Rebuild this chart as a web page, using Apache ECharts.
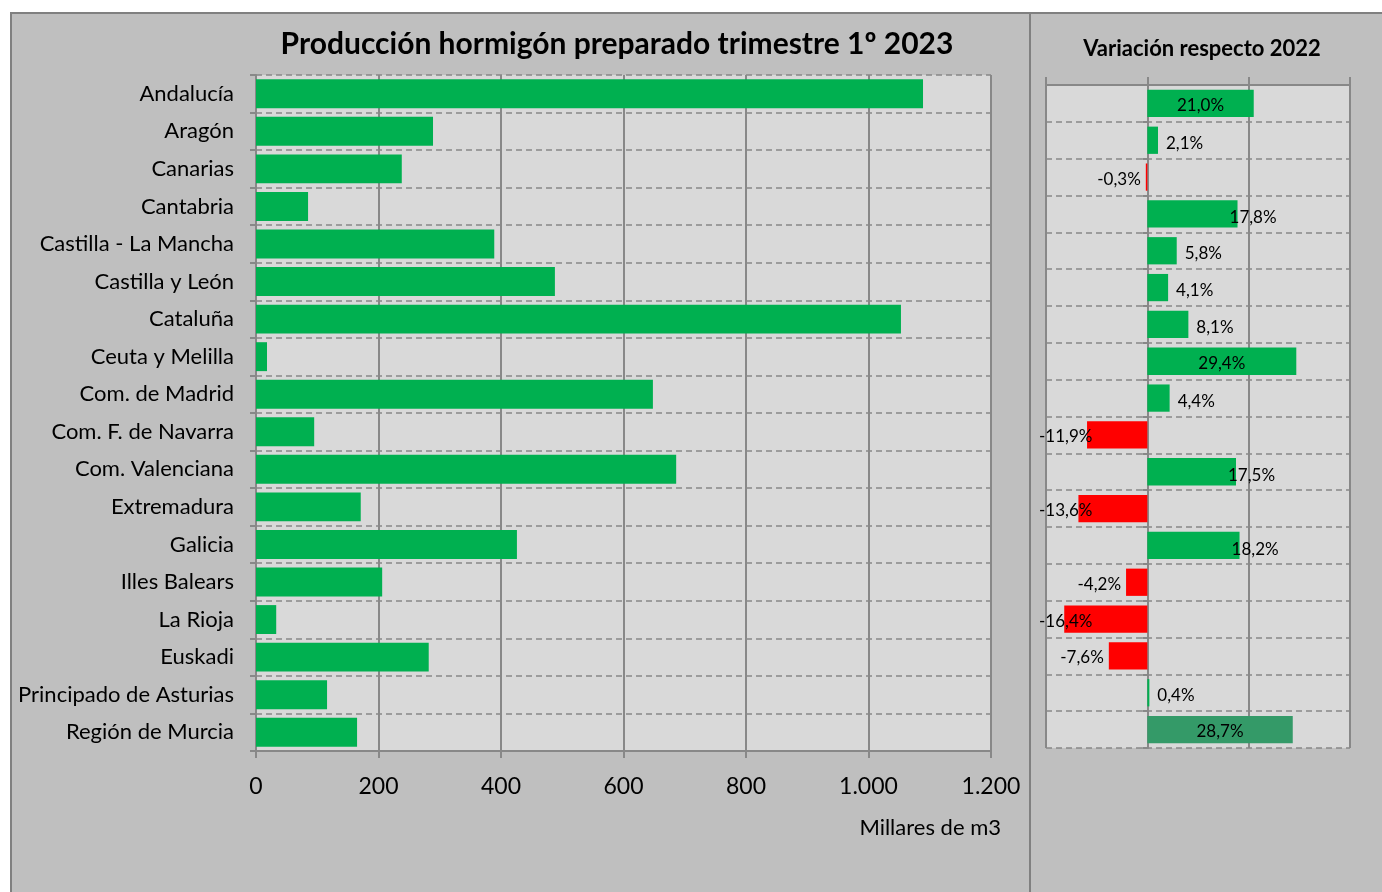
<!DOCTYPE html>
<html>
<head>
<meta charset="utf-8">
<script src="https://cdn.jsdelivr.net/npm/echarts@6/dist/echarts.min.js"></script>
<style>
html,body{margin:0;padding:0;background:#fff;}
#c{width:1382px;height:892px;}
</style>
</head>
<body>
<div id="c"></div>
<script>
const categories = ['Andalucía','Aragón','Canarias','Cantabria','Castilla - La Mancha','Castilla y León','Cataluña','Ceuta y Melilla','Com. de Madrid','Com. F. de Navarra','Com. Valenciana','Extremadura','Galicia','Illes Balears','La Rioja','Euskadi','Principado de Asturias','Región de Murcia'];
const production = [1089, 289, 238, 85, 389, 488, 1053, 18, 648, 95, 686, 171, 426, 206, 33, 282, 116, 165];
const variation = [21.0, 2.1, -0.3, 17.8, 5.8, 4.1, 8.1, 29.4, 4.4, -11.9, 17.5, -13.6, 18.2, -4.2, -16.4, -7.6, 0.4, 28.7];
const prodTicks = [0, 200, 400, 600, 800, 1000, 1200];
const varTicks = [-20, 0, 20, 40];

const FONT = 'Lato';
const GRID = '#888888';
const GREEN = '#00b050';
const RED = '#ff0000';
const DARKGREEN = '#349a68';

const R = {left: 1046, top: 85, width: 304, height: 663};
const ppu = R.width / (varTicks[varTicks.length-1] - varTicks[0]);

function fmtThousands(v){
  return String(v).replace(/\B(?=(\d{3})+(?!\d))/g, '.');
}
function fmtPct(v){ return v.toFixed(1).replace('.', ',') + '%'; }

const varData = variation.map((v, i) => {
  let color = v < 0 ? RED : GREEN;
  if (i === variation.length - 1) color = DARKGREEN;
  let label;
  if (v >= 20) {
    label = {position: 'inside', offset: [0, 2]};
  } else if (v >= 10) {
    label = {position: 'right', distance: 5, offset: [-13, 4]};
  } else if (v >= 0) {
    label = {position: 'right', distance: 8, offset: [0, 3]};
  } else if (v > -10) {
    label = {position: 'left', distance: 5, offset: [0, 2]};
  } else {
    label = {position: 'insideLeft', distance: 0, offset: [-7 - (v - varTicks[0]) * ppu, 2]};
  }
  return {value: v, itemStyle: {color: color}, label: label};
});

const chart = echarts.init(document.getElementById('c'), null, {renderer: 'canvas'});
chart.setOption({
  animation: false,
  textStyle: {fontFamily: FONT},
  graphic: [
    {type: 'rect', z: -100, zlevel: 0, shape: {x: 11, y: 13, width: 1380, height: 890}, style: {fill: '#bfbfbf', stroke: '#808080', lineWidth: 2}},
    {type: 'line', z: -99, shape: {x1: 1030, y1: 13, x2: 1030, y2: 892}, style: {stroke: '#808080', lineWidth: 2}},
    {type: 'text', z: 10, x: 1001, y: 828, style: {text: 'Millares de m3', font: '22px ' + FONT, fill: '#000', textAlign: 'right', textVerticalAlign: 'middle'}}
  ],
  title: [
    {text: 'Producción hormigón preparado trimestre 1º 2023', left: 612, top: 24, textAlign: 'center',
     textStyle: {fontFamily: FONT, fontSize: 30, fontWeight: 'bold', color: '#000'}},
    {text: 'Variación respecto 2022', left: 1197, top: 33, textAlign: 'center',
     textStyle: {fontFamily: FONT, fontSize: 22, fontWeight: 'bold', color: '#000'}}
  ],
  grid: [
    {left: 256, top: 75, width: 735, height: 676, show: true, backgroundColor: '#d9d9d9', borderWidth: 0, containLabel: false},
    {left: R.left, top: R.top, width: R.width, height: R.height, show: true, backgroundColor: '#d9d9d9', borderWidth: 0, containLabel: false}
  ],
  xAxis: [
    {type: 'value', gridIndex: 0, min: prodTicks[0], max: prodTicks[prodTicks.length-1], interval: 200, position: 'bottom',
     axisLine: {show: true, lineStyle: {color: GRID, width: 2}},
     axisTick: {show: true, length: 7, lineStyle: {color: GRID, width: 2}},
     axisLabel: {fontFamily: FONT, fontSize: 23, color: '#000', margin: 24, formatter: v => fmtThousands(v)},
     splitLine: {show: true, lineStyle: {color: GRID, width: 2}}},
    {type: 'value', gridIndex: 1, min: varTicks[0], max: varTicks[varTicks.length-1], interval: 20, position: 'top',
     axisLine: {show: true, onZero: false, lineStyle: {color: GRID, width: 2}},
     axisTick: {show: true, length: 8, lineStyle: {color: GRID, width: 2}},
     axisLabel: {show: false},
     splitLine: {show: true, lineStyle: {color: GRID, width: 2}}}
  ],
  yAxis: [
    {type: 'category', gridIndex: 0, data: categories, inverse: true,
     axisLine: {show: true, lineStyle: {color: GRID, width: 2}},
     axisTick: {show: true, length: 6, lineStyle: {color: GRID, width: 2}},
     axisLabel: {fontFamily: FONT, fontSize: 22, color: '#000', margin: 22},
     splitLine: {show: true, lineStyle: {color: GRID, width: 1.5, type: [6, 4]}}},
    {type: 'category', gridIndex: 1, data: categories, inverse: true,
     axisLine: {show: true, onZero: true, lineStyle: {color: GRID, width: 2}},
     axisTick: {show: true, length: 5, lineStyle: {color: GRID, width: 2}},
     axisLabel: {show: false},
     splitLine: {show: true, lineStyle: {color: GRID, width: 1.5, type: [6, 4]}}}
  ],
  series: [
    {type: 'bar', xAxisIndex: 0, yAxisIndex: 0, data: production, barCategoryGap: '23%',
     itemStyle: {color: GREEN}},
    {type: 'bar', xAxisIndex: 1, yAxisIndex: 1, data: varData, barCategoryGap: '26%',
     label: {show: true, fontFamily: FONT, fontSize: 17, color: '#000', formatter: p => fmtPct(p.value)}}
  ]
});
</script>
</body>
</html>
